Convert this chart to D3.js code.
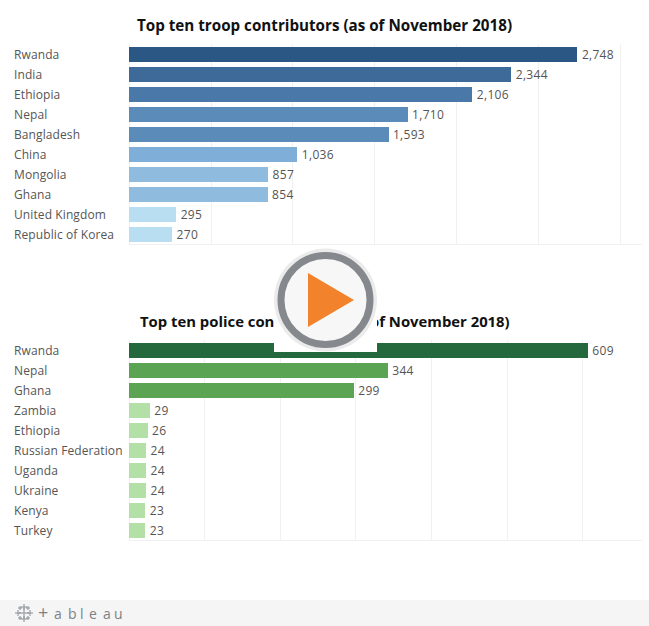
<!DOCTYPE html>
<html>
<head>
<meta charset="utf-8">
<script src="https://d3js.org/d3.v7.min.js"></script>
<style>
html, body { margin: 0; padding: 0; background: #fff; }
svg { display: block; }
text { font-family: "Open Sans", sans-serif; }
</style>
</head>
<body>
<svg></svg>
<script>
var w = 649, h = 626;

// troops
var troopCountries = ['Rwanda', 'India', 'Ethiopia', 'Nepal', 'Bangladesh', 'China', 'Mongolia', 'Ghana', 'United Kingdom', 'Republic of Korea'];
var troopValues = [2748, 2344, 2106, 1710, 1593, 1036, 857, 854, 295, 270];
var troopTicks = [0, 500, 1000, 1500, 2000, 2500, 3000];

// police
var policeCountries = ['Rwanda', 'Nepal', 'Ghana', 'Zambia', 'Ethiopia', 'Russian Federation', 'Uganda', 'Ukraine', 'Kenya', 'Turkey'];
var policeValues = [609, 344, 299, 29, 26, 24, 24, 24, 23, 23];
var policeTicks = [0, 100, 200, 300, 400, 500, 600];

var logoLetters = ['+', 'a', 'b', 'l', 'e', 'a', 'u'];
var logoX = [38, 54, 68, 80, 89, 103, 114];

var svg = d3.select('svg').attr('width', w).attr('height', h);

// stepped colours, same as the tableau legend bins
var troopColor = d3.scaleThreshold()
	.domain([500, 1000, 1100, 2000, 2200, 2500])
	.range(['#b9ddf1', '#8fbbdf', '#7fafd8', '#5b8bb8', '#4a78a9', '#3d6a98', '#2a5783']);
var policeColor = d3.scaleThreshold()
	.domain([100, 400])
	.range(['#b3e0a6', '#5aa454', '#24693d']);

function panel(title, titleX, titleY, titleSize, top, names, values, ticks, xMax, color) {
	var x = d3.scaleLinear().domain([0, xMax]).range([128.4, 642]);
	var y = d3.scaleBand().domain(names).range([top + 0.5, top + 200.5]).paddingInner(0.25).paddingOuter(0.125);
	var g = svg.append('g');

	g.append('text')
		.attr('x', titleX)
		.attr('y', titleY)
		.attr('font-size', titleSize)
		.attr('font-weight', 700)
		.attr('fill', '#111')
		.text(title);

	// grid
	g.selectAll('.grid')
		.data(ticks)
		.enter()
		.append('line')
		.attr('x1', function(d){return Math.ceil(x(d)) + 0.5})
		.attr('x2', function(d){return Math.ceil(x(d)) + 0.5})
		.attr('y1', top)
		.attr('y2', top + 200)
		.attr('stroke', '#f0f0f0');
	g.append('line')
		.attr('x1', 129)
		.attr('x2', 642)
		.attr('y1', top + 200.5)
		.attr('y2', top + 200.5)
		.attr('stroke', '#f0f0f0');

	g.selectAll('.bar')
		.data(values)
		.enter()
		.append('rect')
		.attr('x', 129)
		.attr('y', function(d, i){return y(names[i])})
		.attr('width', function(d){return Math.floor(x(d) + 0.1) - 129})
		.attr('height', y.bandwidth())
		.attr('fill', function(d){return color(d)});

	g.selectAll('.name')
		.data(names)
		.enter()
		.append('text')
		.attr('x', 14)
		.attr('y', function(d){return y(d) + y.bandwidth() / 2})
		.attr('dy', '.35em')
		.attr('font-size', 12)
		.attr('letter-spacing', '0.1px')
		.attr('fill', '#555')
		.text(function(d){return d});

	g.selectAll('.val')
		.data(values)
		.enter()
		.append('text')
		.attr('x', function(d){return x(d) + 4})
		.attr('y', function(d, i){return y(names[i]) + y.bandwidth() / 2})
		.attr('dy', '.35em')
		.attr('font-size', 12)
		.attr('letter-spacing', '0.3px')
		.attr('fill', '#555')
		.text(function(d){return d3.format(',')(d)});
}

panel('Top ten troop contributors (as of November 2018)', 137, 31, 15.2, 44, troopCountries, troopValues, troopTicks, 3140, troopColor);
panel('Top ten police contributors (as of November 2018)', 140, 327, 14.85, 340, policeCountries, policeValues, policeTicks, 680, policeColor);

// play overlay
svg.append('rect').attr('x', 274).attr('y', 300).attr('width', 103).attr('height', 52).attr('fill', '#fff');
svg.append('circle').attr('cx', 325.5).attr('cy', 300).attr('r', 51.5).attr('fill', '#ebebeb');
svg.append('circle').attr('cx', 325.5).attr('cy', 300).attr('r', 44.5).attr('fill', '#f7f7f7').attr('stroke', '#85888c').attr('stroke-width', 7);
svg.append('path').attr('d', 'M308,273L354,300L308,327Z').attr('fill', '#f2822b');

// footer
svg.append('rect').attr('x', 0).attr('y', 600).attr('width', w).attr('height', 26).attr('fill', '#f5f5f5');
var logo = svg.append('g').attr('stroke', '#8a8f94').attr('stroke-width', 1);
[[24, 613, 5], [18, 613, 3], [30, 613, 3], [24, 607, 3], [24, 619, 3], [20, 608, 2], [28, 608, 2], [20, 618, 2], [28, 618, 2]].forEach(function(p){
	logo.append('path').attr('d', 'M' + (p[0] - p[2]) + ',' + p[1] + 'H' + (p[0] + p[2]) + 'M' + p[0] + ',' + (p[1] - p[2]) + 'V' + (p[1] + p[2]));
});
svg.selectAll('.logoLetter')
	.data(logoLetters)
	.enter()
	.append('text')
	.attr('x', function(d, i){return logoX[i]})
	.attr('y', 619)
	.attr('font-size', function(d){return d === '+' ? 18 : 14})
	.attr('fill', '#7d8287')
	.text(function(d){return d});
</script>
</body>
</html>
